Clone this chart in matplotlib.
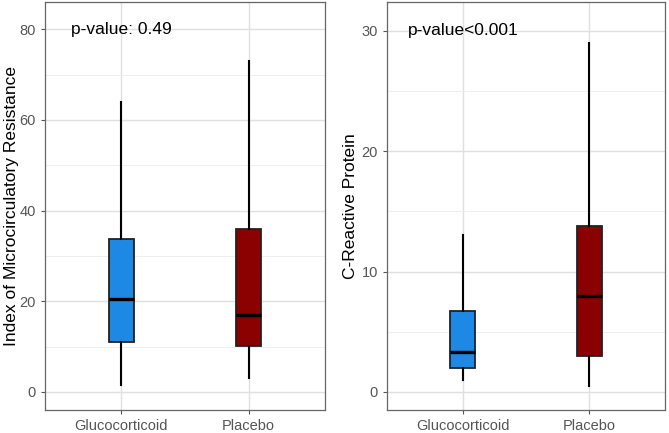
import numpy as np
import matplotlib.pyplot as plt
from matplotlib.ticker import MultipleLocator

plt.rcParams['font.family'] = ['Liberation Sans', 'DejaVu Sans']

# Datos
groups = ['Glucocorticoid', 'Placebo']
colors = ['#1E88E5', '#8B0000']

imr_low = [1.5, 3.0]
imr_q1 = [11.0, 10.2]
imr_med = [20.5, 17.0]
imr_q3 = [33.7, 36.0]
imr_high = [64.0, 73.0]

crp_low = [1.0, 0.5]
crp_q1 = [2.0, 3.0]
crp_med = [3.3, 8.0]
crp_q3 = [6.7, 13.8]
crp_high = [13.0, 29.0]

def make_stats(low, q1, med, q3, high):
    stats = []
    for i in range(len(groups)):
        stats.append({'whislo': low[i], 'q1': q1[i], 'med': med[i],
                      'q3': q3[i], 'whishi': high[i], 'fliers': []})
    return stats

def draw_panel(ax, stats, ylabel, ylim, major, minor, ptext, py, labx):
    ax.set_axisbelow(True)
    bp = ax.bxp(stats, positions=[1, 2], widths=0.2, patch_artist=True,
                showcaps=False, showfliers=False,
                boxprops=dict(edgecolor='#222222', linewidth=1.3),
                medianprops=dict(color='black', linewidth=2.4),
                whiskerprops=dict(color='black', linewidth=1.5))
    for patch, c in zip(bp['boxes'], colors):
        patch.set_facecolor(c)
    ax.set_xlim(0.4, 2.6)
    ax.set_ylim(*ylim)
    ax.set_xticks([1, 2])
    ax.set_xticklabels(groups)
    ax.yaxis.set_major_locator(MultipleLocator(major))
    ax.yaxis.set_minor_locator(MultipleLocator(minor))
    ax.grid(which='major', color='#e0e0e0', linewidth=1.0)
    ax.grid(which='minor', axis='y', color='#ededed', linewidth=0.6)
    ax.tick_params(which='minor', length=0)
    ax.tick_params(which='major', length=3, color='#555555', labelsize=10.5,
                   labelcolor='#555555')
    for s in ax.spines.values():
        s.set_color('#666666')
        s.set_linewidth(0.9)
    ax.set_ylabel(ylabel, fontsize=12.5, color='black')
    ax.yaxis.set_label_coords(labx, 0.5)
    ax.text(1, py, ptext, ha='center', va='center', fontsize=12.5)

fig = plt.figure(figsize=(6.69, 4.33), dpi=100)
ax1 = fig.add_axes([0.0673, 0.0531, 0.4185, 0.9423])
ax2 = fig.add_axes([0.5785, 0.0531, 0.4155, 0.9423])

draw_panel(ax1, make_stats(imr_low, imr_q1, imr_med, imr_q3, imr_high),
           'Index of Microcirculatory Resistance', (-4, 86), 20, 10,
           'p-value: 0.49', 80, -0.093)
draw_panel(ax2, make_stats(crp_low, crp_q1, crp_med, crp_q3, crp_high),
           'C-Reactive Protein', (-1.5, 32.4), 10, 5,
           'p-value<0.001', 30, -0.104)

plt.savefig('out.png', dpi=100)
